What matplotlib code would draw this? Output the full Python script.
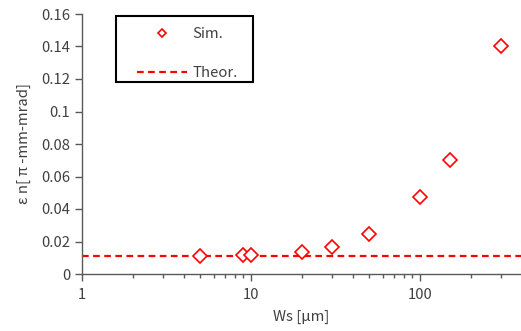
import matplotlib
matplotlib.use("Agg")
import matplotlib.pyplot as plt
from matplotlib.patches import Rectangle
from matplotlib.ticker import FixedLocator, LogLocator, NullFormatter, FuncFormatter

plt.rcParams['font.family'] = ['Noto Sans CJK JP', 'DejaVu Sans']

ws = [5, 9, 10, 20, 30, 50, 100, 150, 300]
emit = [0.0113, 0.0116, 0.0118, 0.0137, 0.0168, 0.0246, 0.0474, 0.0703, 0.1405]
theor = 0.0112

grey = '#595959'
txt = '#404040'
fs = 10.7
fig = plt.figure(figsize=(5.21, 3.31), dpi=100)
ax = fig.add_axes([82/521, 1-274/331, 1-82/521, 260/331])

ax.axhline(theor, color='#ff0000', lw=1.6, ls=(0, (3, 2)), label='Theor.', zorder=2)
ax.plot(ws, emit, ls='none', marker='D', ms=7.5, mfc='white', mec='#ff0000', mew=1.2,
        label='Sim.', zorder=3)

ax.set_xscale('log')
ax.set_xlim(1, 10**((521-82)/169))
ax.set_ylim(0, 0.16)
ax.set_yticks([0, 0.02, 0.04, 0.06, 0.08, 0.1, 0.12, 0.14, 0.16])
ax.yaxis.set_major_formatter(FuncFormatter(lambda v, p: ('%g' % round(v, 2))))
ax.xaxis.set_major_locator(FixedLocator([1, 10, 100]))
ax.xaxis.set_major_formatter(FuncFormatter(lambda v, p: '%d' % v))
ax.xaxis.set_minor_locator(LogLocator(base=10, subs=range(2, 10)))
ax.xaxis.set_minor_formatter(NullFormatter())

for s in ['top', 'right']:
    ax.spines[s].set_visible(False)
for s in ['left', 'bottom']:
    ax.spines[s].set_color(grey)
    ax.spines[s].set_linewidth(1.0)
ax.tick_params(axis='both', which='major', direction='out', length=5, width=1,
               color=grey, labelcolor=txt, labelsize=fs)
ax.tick_params(axis='x', which='minor', direction='out', length=3, width=1, color=grey)
ax.tick_params(axis='x', which='major', pad=5)

ax.set_xlabel('Ws [μm]', color=txt, fontsize=fs, labelpad=6)
ax.set_ylabel('ε n[ π -mm-mrad]', color=txt, fontsize=fs, labelpad=7)

# legend frame (pixel box in figure)
fig.patches.append(Rectangle((116/521, 1-82/331), (253-116)/521, (82-16)/331,
                             transform=fig.transFigure, facecolor='white',
                             edgecolor='black', lw=1.5, zorder=5))
h, l = ax.get_legend_handles_labels()
leg = fig.legend([h[1], h[0]], [l[1], l[0]], loc='upper left',
                 bbox_to_anchor=(133/521, 1-23/331), frameon=False,
                 markerscale=0.55, fontsize=fs, handlelength=3.3, borderpad=0.3,
                 labelspacing=1.65, borderaxespad=0, handletextpad=0.4)
leg.set_zorder(6)
for t in leg.get_texts():
    t.set_color(txt)

fig.savefig('out.png', dpi=100)
